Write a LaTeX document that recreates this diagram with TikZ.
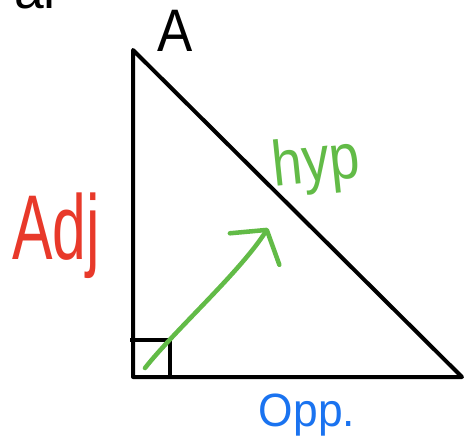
\documentclass[tikz,border=0pt]{standalone}
\usepackage{fontspec}
\setmainfont{Liberation Sans}
\usetikzlibrary{arrows.meta}
\definecolor{adjred}{HTML}{E8392A}
\definecolor{hypgreen}{HTML}{62BB47}
\definecolor{oppblue}{HTML}{1A73F0}
\begin{document}
\begin{tikzpicture}[
  x=0.75pt, y=-0.75pt,
  side/.style={line width=3pt, line join=round},
  corner/.style={line width=2.6pt},
  arrowpen/.style={draw=hypgreen, line width=3.4pt, line cap=round, -{Straight Barb[length=17pt, width=44pt, round]}},
  lbl/.style={inner sep=0pt, anchor=center}
]
\clip (0,0) rectangle (464,440);
\coordinate (A) at (133,50);
\coordinate (B) at (133,377);
\coordinate (C) at (462,377);
\draw[side] (A) -- (B) -- (C) -- cycle;
\draw[corner] (130,340) -| (170,377);

% cut-off heading at the top
\node[inner sep=0pt, anchor=base east, font=\fontsize{40}{40}\selectfont] (head) at (62,8) {g ar};

\node[lbl, font=\fontsize{45}{45}\selectfont] (angA) at (175,31) {\scalebox{0.88}[1]{A}};
\node[lbl, text=hypgreen, rotate=6, font=\fontsize{48}{48}\selectfont] (hyp) at (316,165) {\scalebox{0.85}[1]{hyp}};
\node[lbl, text=adjred, font=\fontsize{69}{69}\selectfont] (adj) at (56,236) {\scalebox{0.66}[1]{Adj}};
\node[lbl, text=oppblue, font=\fontsize{35}{35}\selectfont] (opp) at (307,415) {\scalebox{0.95}[1]{Opp.}};

\coordinate (arrowstart) at (145,368);
\coordinate (arrowtip) at (268,228);
\draw[arrowpen] (arrowstart) .. controls (175,330) and (240,272) .. (arrowtip);
\end{tikzpicture}
\end{document}
